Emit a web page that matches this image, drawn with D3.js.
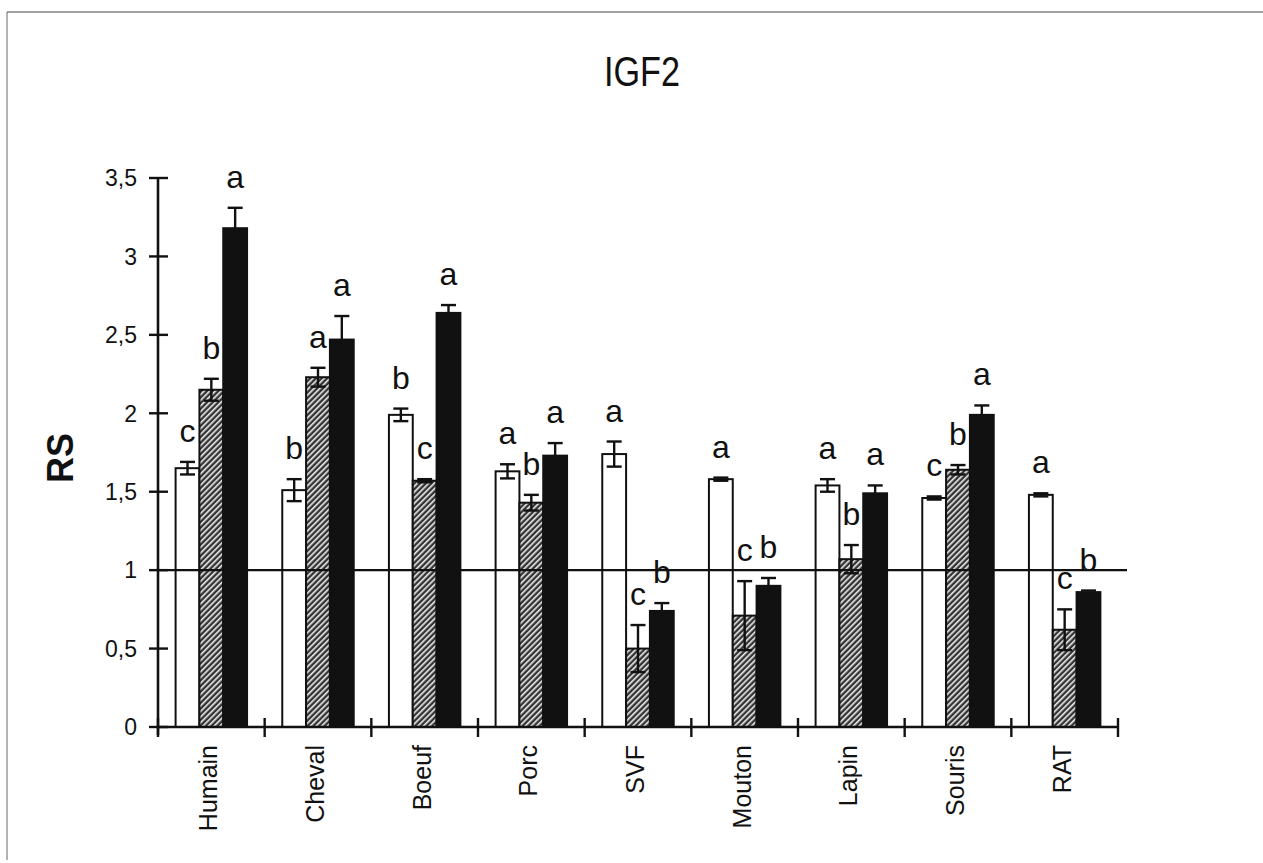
<!DOCTYPE html>
<html>
<head>
<meta charset="utf-8">
<script src="https://cdn.jsdelivr.net/npm/d3@7"></script>
<style>
  html, body { margin: 0; padding: 0; background: #fff; }
  svg { display: block; }
  text { font-family: "Liberation Sans", Arial, sans-serif; fill: #111; }
</style>
</head>
<body>
<svg id="chart" width="1263" height="863"></svg>
<script>
// ---- data ----
const categories = ["Humain", "Cheval", "Boeuf", "Porc", "SVF", "Mouton", "Lapin", "Souris", "RAT"];
const seriesNames = ["white", "hatch", "black"];
const whiteVals = [1.65, 1.51, 1.99, 1.63, 1.74, 1.58, 1.54, 1.46, 1.48];
const whiteErr  = [0.04, 0.07, 0.04, 0.045, 0.08, 0.01, 0.04, 0.01, 0.01];
const hatchVals = [2.15, 2.23, 1.57, 1.43, 0.50, 0.71, 1.07, 1.64, 0.62];
const hatchErr  = [0.07, 0.06, 0.01, 0.05, 0.15, 0.22, 0.09, 0.03, 0.13];
const blackVals = [3.18, 2.47, 2.64, 1.73, 0.74, 0.90, 1.49, 1.99, 0.86];
const blackErr  = [0.13, 0.15, 0.05, 0.08, 0.05, 0.05, 0.05, 0.06, 0.01];
const whiteLetters = ["c", "b", "b", "a", "a", "a", "a", "c", "a"];
const hatchLetters = ["b", "a", "c", "b", "c", "c", "b", "b", "c"];
const blackLetters = ["a", "a", "a", "a", "b", "b", "a", "a", "b"];
const yTicks = [0, 0.5, 1, 1.5, 2, 2.5, 3, 3.5];
const yTickLabels = ["0", "0,5", "1", "1,5", "2", "2,5", "3", "3,5"];
const refLine = 1;
const title = "IGF2";
const yTitle = "RS";

// ---- build rows ----
const valsBy = { white: whiteVals, hatch: hatchVals, black: blackVals };
const errBy = { white: whiteErr, hatch: hatchErr, black: blackErr };
const letBy = { white: whiteLetters, hatch: hatchLetters, black: blackLetters };
const rows = [];
categories.forEach((c, i) => {
  seriesNames.forEach(s => rows.push({ cat: c, s, v: valsBy[s][i], e: errBy[s][i], l: letBy[s][i] }));
});

// ---- layout ----
const svg = d3.select("#chart");
const plotLeft = 158, plotRight = 1118, plotTop = 178, plotBottom = 727;

const x = d3.scaleBand().domain(categories).range([plotLeft, plotRight]).paddingInner(0.33).paddingOuter(0.165);
const xs = d3.scaleBand().domain(seriesNames).range([0, x.bandwidth()]).padding(0);
const y = d3.scaleLinear().domain([0, 3.5]).range([plotBottom, plotTop]);

// frame
svg.append("line").attr("x1", 7).attr("x2", 1263).attr("y1", 12).attr("y2", 12)
  .attr("stroke", "#444").attr("stroke-width", 1.2);
svg.append("line").attr("x1", 7).attr("x2", 7).attr("y1", 12).attr("y2", 860)
  .attr("stroke", "#666").attr("stroke-width", 1);

// hatch pattern
const defs = svg.append("defs");
const pat = defs.append("pattern").attr("id", "hatch").attr("patternUnits", "userSpaceOnUse")
  .attr("width", 4).attr("height", 4).attr("patternTransform", "rotate(45)");
pat.append("rect").attr("width", 4).attr("height", 4).attr("fill", "#333");
pat.append("rect").attr("x", 0).attr("width", 1.6).attr("height", 4).attr("fill", "#eee");

// title
svg.append("text").attr("x", 642).attr("y", 86).attr("text-anchor", "middle")
  .attr("font-size", 42).attr("textLength", 76).attr("lengthAdjust", "spacingAndGlyphs")
  .text(title);

// y title
svg.append("text").attr("transform", "translate(60,458) rotate(-90)")
  .attr("text-anchor", "middle").attr("dy", "0.36em")
  .attr("font-size", 36).attr("font-weight", "bold").text(yTitle);

// bars
const fillFor = s => s === "white" ? "#fff" : (s === "hatch" ? "url(#hatch)" : "#111");
const bx = d => x(d.cat) + xs(d.s);
const bw = xs.bandwidth();

svg.append("g").selectAll("rect").data(rows).join("rect")
  .attr("x", bx).attr("width", bw)
  .attr("y", d => y(d.v)).attr("height", d => y(0) - y(d.v))
  .attr("fill", d => fillFor(d.s))
  .attr("stroke", "#111").attr("stroke-width", 2);

// reference line at 1
svg.append("line").attr("x1", plotLeft).attr("x2", 1127)
  .attr("y1", y(refLine)).attr("y2", y(refLine))
  .attr("stroke", "#111").attr("stroke-width", 2.2);

// error bars
const eg = svg.append("g").attr("stroke", "#111").attr("stroke-width", 2.4);
const capW = 15;
rows.forEach(d => {
  const cx = bx(d) + bw / 2;
  const hi = y(d.v + d.e), lo = y(Math.max(0, d.v - d.e));
  eg.append("line").attr("x1", cx).attr("x2", cx).attr("y1", hi).attr("y2", lo);
  eg.append("line").attr("x1", cx - capW / 2).attr("x2", cx + capW / 2).attr("y1", hi).attr("y2", hi);
  eg.append("line").attr("x1", cx - capW / 2).attr("x2", cx + capW / 2).attr("y1", lo).attr("y2", lo);
});

// letters
svg.append("g").selectAll("text").data(rows).join("text")
  .attr("x", d => bx(d) + bw / 2)
  .attr("y", d => y(d.v + d.e) - 20)
  .attr("text-anchor", "middle")
  .attr("font-size", 32)
  .attr("fill", "#222")
  .text(d => d.l);

// y axis
const yAxis = svg.append("g");
yAxis.append("line").attr("x1", plotLeft).attr("x2", plotLeft).attr("y1", y(3.5)).attr("y2", y(0) + 8)
  .attr("stroke", "#111").attr("stroke-width", 2.6);
yAxis.selectAll("line.t").data(yTicks).join("line").attr("class", "t")
  .attr("x1", plotLeft - 9).attr("x2", plotLeft + 10)
  .attr("y1", d => y(d)).attr("y2", d => y(d))
  .attr("stroke", "#111").attr("stroke-width", 2.4);
yAxis.selectAll("text").data(yTicks).join("text")
  .attr("x", 137).attr("y", d => y(d)).attr("dy", "0.36em")
  .attr("text-anchor", "end").attr("font-size", 23)
  .text((d, i) => yTickLabels[i]);

// x axis
const xAxis = svg.append("g");
xAxis.append("line").attr("x1", plotLeft).attr("x2", plotRight).attr("y1", y(0)).attr("y2", y(0))
  .attr("stroke", "#111").attr("stroke-width", 2.6);
const step = x.step();
const bounds = categories.map(c => x(c) - x.paddingOuter() * step).concat([plotRight]);
xAxis.selectAll("line.t").data(bounds).join("line").attr("class", "t")
  .attr("x1", d => d).attr("x2", d => d)
  .attr("y1", y(0) - 9).attr("y2", y(0) + 10)
  .attr("stroke", "#111").attr("stroke-width", 2.4);
xAxis.selectAll("text").data(categories).join("text")
  .attr("transform", d => `translate(${x(d) + x.bandwidth() / 2 - 3},745) rotate(-90)`)
  .attr("dy", "0.36em")
  .attr("text-anchor", "end").attr("font-size", 25)
  .text(d => d);
</script>
</body>
</html>
